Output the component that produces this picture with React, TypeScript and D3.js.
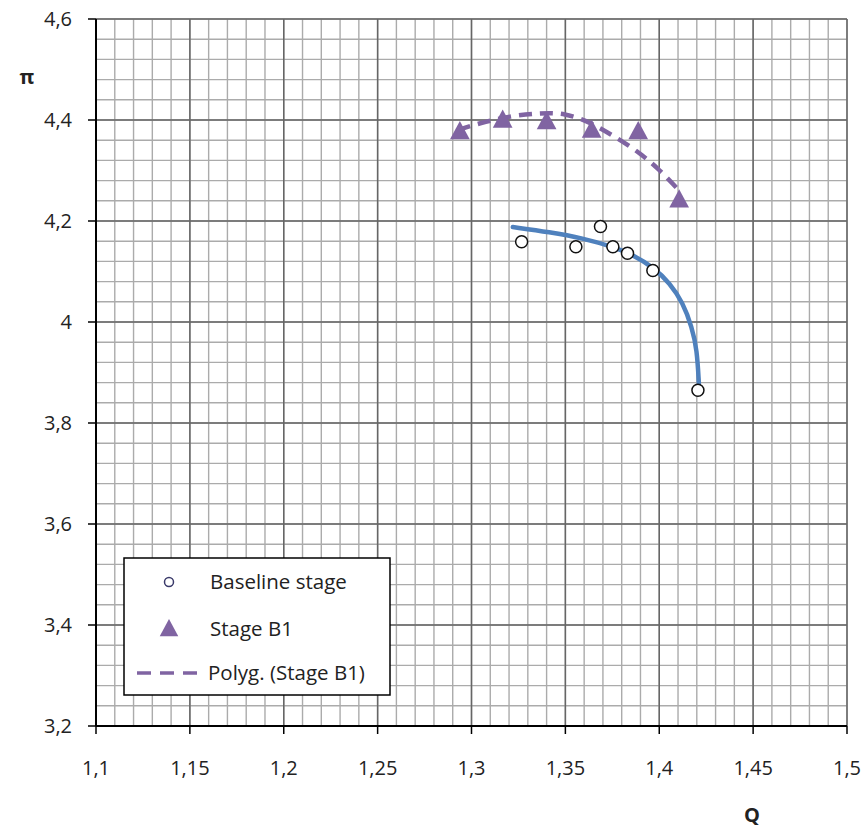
import React from "react";
import * as d3 from "d3";

const xTicks = [1.1, 1.15, 1.2, 1.25, 1.3, 1.35, 1.4, 1.45, 1.5];
const yTicks = [3.2, 3.4, 3.6, 3.8, 4.0, 4.2, 4.4, 4.6];

const baselineQ = [1.3267, 1.3556, 1.3687, 1.3753, 1.3831, 1.3966, 1.4206];
const baselinePi = [4.159, 4.149, 4.189, 4.149, 4.136, 4.102, 3.865];

const baselineTrendQ = [1.322, 1.3417, 1.3593, 1.3753, 1.3859, 1.3966, 1.4057, 1.4126, 1.4174, 1.4201, 1.4211];
const baselineTrendPi = [4.188, 4.178, 4.166, 4.149, 4.133, 4.109, 4.077, 4.038, 3.99, 3.945, 3.879];

const b1Q = [1.2938, 1.3166, 1.34, 1.364, 1.3888, 1.4106];
const b1Pi = [4.377, 4.4, 4.397, 4.38, 4.377, 4.242];

const b1TrendQ = [1.2927, 1.3045, 1.3205, 1.3364, 1.3497, 1.363, 1.3764, 1.3897, 1.4003, 1.4104];
const b1TrendPi = [4.38, 4.394, 4.408, 4.414, 4.414, 4.396, 4.367, 4.335, 4.301, 4.261];

const legendLabels = ["Baseline stage", "Stage B1", "Polyg. (Stage B1)"];

const W = 866;
const H = 828;
const L = 96, R = 847, T = 19, B = 726;
const BLUE = "#4F81BD";
const PURPLE = "#8064A2";
const FONT = "'Open Sans', sans-serif";

const fmt = (v: number) => String(+v.toFixed(2)).replace(".", ",");

export default function App() {
  const x = d3.scaleLinear().domain([1.1, 1.5]).range([L, R]);
  const y = d3.scaleLinear().domain([3.2, 4.6]).range([B, T]);

  const minorX = d3.range(0, 41).map((i) => 1.1 + i * 0.01);
  const minorY = d3.range(0, 36).map((i) => 3.2 + i * 0.04);

  const line = d3
    .line<[number, number]>()
    .x((d) => x(d[0]))
    .y((d) => y(d[1]))
    .curve(d3.curveBasis);

  const blueLine = line(baselineTrendQ.map((q, i) => [q, baselineTrendPi[i]]) as [number, number][]) || "";
  const purpleLine = line(b1TrendQ.map((q, i) => [q, b1TrendPi[i]]) as [number, number][]) || "";

  const tri = (cx: number, cy: number, s: number) =>
    `M${cx},${cy - s * 0.62}L${cx + s * 0.58},${cy + s * 0.45}L${cx - s * 0.58},${cy + s * 0.45}Z`;

  return (
    <svg width={W} height={H} style={{ position: "absolute", left: 0, top: 0, background: "#fff" }}>
      <rect x={0} y={0} width={W} height={H} fill="#fff" />
      {/* minor grid */}
      {minorX.map((v, i) => (
        <line key={"mx" + i} x1={x(v)} x2={x(v)} y1={T} y2={B} stroke="#ababab" strokeWidth={1.4} />
      ))}
      {minorY.map((v, i) => (
        <line key={"my" + i} x1={L} x2={R} y1={y(v)} y2={y(v)} stroke="#ababab" strokeWidth={1.4} />
      ))}
      {/* major grid */}
      {xTicks.map((v, i) => (
        <line key={"Mx" + i} x1={x(v)} x2={x(v)} y1={T} y2={B} stroke="#666" strokeWidth={1.5} />
      ))}
      {yTicks.map((v, i) => (
        <line key={"My" + i} x1={L} x2={R} y1={y(v)} y2={y(v)} stroke="#666" strokeWidth={1.5} />
      ))}
      {/* axes */}
      <line x1={L} x2={L} y1={T} y2={B} stroke="#000" strokeWidth={2} />
      <line x1={L} x2={R} y1={B} y2={B} stroke="#000" strokeWidth={2} />
      {yTicks.map((v, i) => (
        <g key={"yt" + i}>
          <line x1={L - 8} x2={L} y1={y(v)} y2={y(v)} stroke="#000" strokeWidth={1.5} />
          <text x={72} y={y(v)} dy="0.35em" textAnchor="end" fontFamily={FONT} fontSize={20} fill="#222">
            {fmt(v)}
          </text>
        </g>
      ))}
      {xTicks.map((v, i) => (
        <g key={"xt" + i}>
          <line x1={x(v)} x2={x(v)} y1={B} y2={B + 8} stroke="#000" strokeWidth={1.5} />
          <text x={x(v)} y={768} dy="0.35em" textAnchor="middle" fontFamily={FONT} fontSize={20} fill="#222">
            {fmt(v)}
          </text>
        </g>
      ))}
      <text x={27} y={77} dy="0.35em" textAnchor="middle" fontFamily={FONT} fontSize={20} fontWeight="bold" fill="#222">
        π
      </text>
      <text x={752} y={815} dy="0.35em" textAnchor="middle" fontFamily={FONT} fontSize={20} fontWeight="bold" fill="#222">
        Q
      </text>

      {/* trend lines */}
      <path d={blueLine} fill="none" stroke={BLUE} strokeWidth={4.5} strokeLinecap="round" />
      <path d={purpleLine} fill="none" stroke={PURPLE} strokeWidth={4.5} strokeDasharray="13 8" />

      {/* points */}
      {baselineQ.map((q, i) => (
        <circle key={"c" + i} cx={x(q)} cy={y(baselinePi[i])} r={6} fill="#fff" stroke="#111" strokeWidth={1.5} />
      ))}
      {b1Q.map((q, i) => (
        <path key={"t" + i} d={tri(x(q), y(b1Pi[i]), 17)} fill={PURPLE} />
      ))}

      {/* legend */}
      <rect x={124} y={558} width={266} height={137} fill="#fff" stroke="#000" strokeWidth={1.5} />
      <circle cx={169} cy={582} r={4.5} fill="#fff" stroke="#3a3a6a" strokeWidth={1.5} />
      <text x={210} y={582} dy="0.35em" fontFamily={FONT} fontSize={20.5} fill="#222">
        {legendLabels[0]}
      </text>
      <path d={tri(169, 629, 16)} fill={PURPLE} />
      <text x={210} y={629} dy="0.35em" fontFamily={FONT} fontSize={20.5} fill="#222">
        {legendLabels[1]}
      </text>
      <line x1={137} x2={202} y1={673} y2={673} stroke={PURPLE} strokeWidth={3.5} strokeDasharray="14 9" />
      <text x={208} y={673} dy="0.35em" fontFamily={FONT} fontSize={20.5} fill="#222">
        {legendLabels[2]}
      </text>
    </svg>
  );
}
